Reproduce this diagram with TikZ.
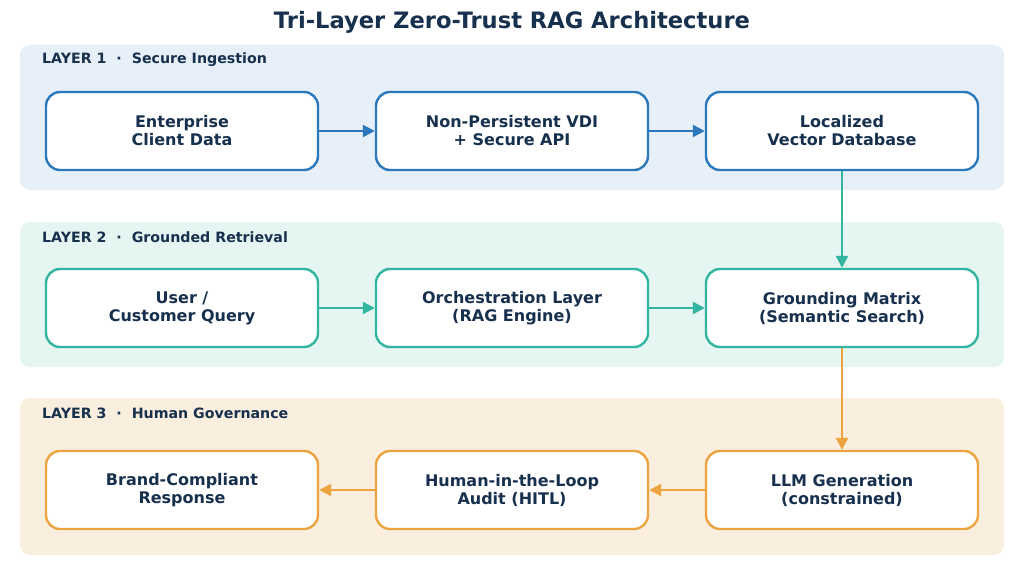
\documentclass[tikz,border=0pt]{standalone}
\usepackage{fontspec}
\setmainfont{DejaVu Sans}
\usetikzlibrary{arrows.meta}
\definecolor{inkNavy}{HTML}{17304D}
\definecolor{blueLine}{HTML}{2B78BA}
\definecolor{blueBack}{HTML}{E7F0F8}
\definecolor{tealLine}{HTML}{32B5A1}
\definecolor{tealBack}{HTML}{E5F5F1}
\definecolor{orangeLine}{HTML}{EBA43F}
\definecolor{orangeBack}{HTML}{FAEFDF}

\begin{document}
\begin{tikzpicture}[x=1pt,y=-1pt,
                        panel/.style={fill=#1,draw=none,rounded corners=10},
                        box/.style={draw=#1,fill=white,line width=2.4,rounded corners=14,
                        minimum width=272,minimum height=78,align=center,text=inkNavy,
                        font=\fontsize{16}{18}\selectfont\bfseries},
                        layertag/.style={anchor=west,text=inkNavy,inner sep=0,
                        font=\fontsize{14.2}{16}\selectfont\bfseries},
                        flow/.style={draw=#1,line width=2.4,-{Triangle[length=12,width=12]}}
                        ]
                        \def\L{20}    % panel left
                        \def\R{1004}  % panel right
                        \def\a{182}   % first column
                        \def\b{512}   % second column
                        \def\c{842}   % third column

                        \useasboundingbox (0,0) rectangle (1024,588);

                        \node[text=inkNavy,font=\fontsize{22.6}{27}\selectfont\bfseries] (title) at (512,22) {Tri-Layer Zero-Trust RAG Architecture};

                        % the three layers
                        \foreach \n/\y/\h/\col/\tag in {1/45/145/blueBack/Secure Ingestion,
                                                        2/222/145/tealBack/Grounded Retrieval,
                                                        3/398/157/orangeBack/Human Governance} {
                            \fill[panel=\col] (\L,\y) rectangle ++ (\R-\L,\h);
                            \node[layertag] (tag\n) at (42,\y+15) {LAYER \n~~·~~\tag};
                        }

                        \node[box=blueLine] (data) at (\a,131) {Enterprise\\Client Data};
                        \node[box=blueLine] (vdi) at (\b,131) {Non-Persistent VDI\\+ Secure API};
                        \node[box=blueLine] (vector) at (\c,131) {Localized\\Vector Database};

                        \node[box=tealLine] (query) at (\a,308) {User /\\Customer Query};
                        \node[box=tealLine] (orch) at (\b,308) {Orchestration Layer\\(RAG Engine)};
                        \node[box=tealLine] (matrix) at (\c,308) {Grounding Matrix\\(Semantic Search)};

                        \node[box=orangeLine] (brand) at (\a,490) {Brand-Compliant\\Response};
                        \node[box=orangeLine] (hitl) at (\b,490) {Human-in-the-Loop\\Audit (HITL)};
                        \node[box=orangeLine] (llm) at (\c,490) {LLM Generation\\(constrained)};

                        \draw[flow=blueLine] (data) -- (vdi);
                        \draw[flow=blueLine] (vdi) -- (vector);
                        \draw[flow=tealLine] (vector) -- (matrix);
                        \draw[flow=tealLine] (query) -- (orch);
                        \draw[flow=tealLine] (orch) -- (matrix);
                        \draw[flow=orangeLine] (matrix) -- (llm);
                        \draw[flow=orangeLine] (llm) -- (hitl);
                        \draw[flow=orangeLine] (hitl) -- (brand);
                    \end{tikzpicture}
\end{document}
